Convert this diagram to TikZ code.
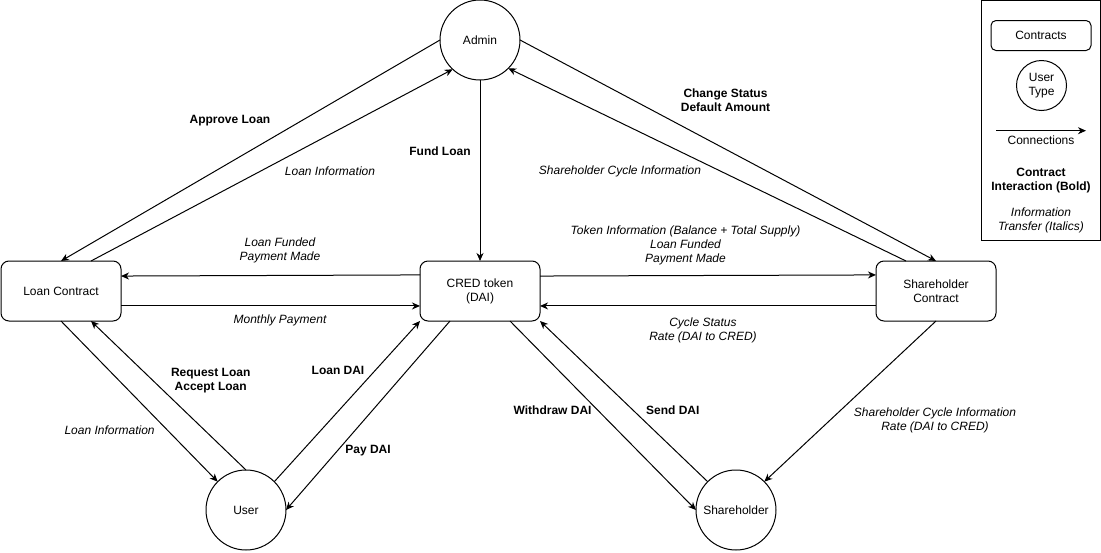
\documentclass[tikz,border=0pt]{standalone}
\usepackage{fontspec}
\setmainfont{Liberation Sans}
\usetikzlibrary{arrows.meta}
\begin{document}
\begin{tikzpicture}[x=1pt,y=-1pt,
  font=\fontsize{12}{14}\selectfont, line width=1pt,
  box/.style={draw, rounded corners=8pt, minimum width=120pt, minimum height=60pt, inner sep=0pt, outer sep=0pt, align=center},
  usr/.style={draw, circle, minimum size=80pt, inner sep=0pt, outer sep=0pt, align=center},
  conn/.style={-{Stealth[length=8pt,width=7pt,inset=2.5pt]}},
  bl/.style={font=\fontsize{12}{14}\selectfont\bfseries, align=center, inner sep=0pt},
  it/.style={font=\fontsize{12}{14}\selectfont\itshape, align=center, inner sep=0pt}]
\useasboundingbox (0,0) rectangle (1101,552);

% main nodes
\node[usr] (A) at (480,40) {Admin};
\node[box] (L) at (61,291) {Loan Contract};
\node[box] (C) at (480,291) {CRED token\\(DAI)};
\node[box] (S) at (936,291) {Shareholder\\Contract};
\node[usr] (U) at (246,510) {User};
\node[usr] (H) at (736,510) {Shareholder};

% connectors
\draw[conn] (A.west) -- (L.north);
\draw[conn] (L.45) -- (A.227);
\draw[conn] (A.south) -- (C.north);
\draw[conn] (A.east) -- (S.north);
\draw[conn] (S.135) -- (A.-45);
\draw[conn] (C.165.964) -- (L.14.036);
\draw[conn] (L.-14.036) -- (C.194.036);
\draw[conn] (C.14.036) -- (S.165.964);
\draw[conn] (S.194.036) -- (C.-14.036);
\draw[conn] (L.south) -- (U.135);
\draw[conn] (U.north) -- (L.-45);
\draw[conn] (U.45) -- (C.south west);
\draw[conn] (C.225) -- (U.east);
\draw[conn] (C.-45) -- (H.west);
\draw[conn] (H.135) -- (C.south east);
\draw[conn] (S.south) -- (H.45);

% labels
\node[bl] (l1) at (230,121) {Approve Loan};
\node[it] (l2) at (330,171) {Loan Information};
\node[bl] (l3) at (440,151) {Fund Loan};
\node[bl] (l4) at (725.5,100.7) {Change Status\\Default Amount};
\node[it] (l5) at (620,171) {Shareholder Cycle Information};
\node[it] (l6) at (280,250.7) {Loan Funded\\Payment Made};
\node[it] (l7) at (280,320.7) {Monthly Payment};
\node[it] (l8) at (685.5,245.7) {Token Information (Balance + Total Supply)\\Loan Funded\\Payment Made};
\node[it] (l9) at (703,330.7) {Cycle Status\\Rate (DAI to CRED)};
\node[it] (l10) at (109.6,430.7) {Loan Information};
\node[bl] (l11) at (210.7,380.7) {Request Loan\\Accept Loan};
\node[bl] (l12) at (338,370.7) {Loan DAI};
\node[bl] (l13) at (368,450.7) {Pay DAI};
\node[bl] (l14) at (552.6,410.7) {Withdraw DAI};
\node[bl] (l15) at (672.8,410.7) {Send DAI};
\node[it] (l16) at (935,420.7) {Shareholder Cycle Information\\Rate (DAI to CRED)};

% legend
\node[draw, minimum width=119pt, minimum height=240pt, inner sep=0pt, outer sep=0pt, anchor=north west] (legend) at (981.5,0.5) {};
\node[draw, rounded corners=5pt, minimum width=100pt, minimum height=30pt, inner sep=0pt] (lc) at (1041,35.5) {Contracts};
\node[draw, circle, minimum size=50pt, inner sep=0pt, align=center] (lu) at (1041.5,85.5) {User\\Type};
\coordinate (la1) at (996,130.7);
\coordinate (la2) at (1086,130.7);
\draw[conn] (la1) -- (la2);
\node[inner sep=0pt] (lt1) at (1041,140.7) {Connections};
\node[bl] (lt2) at (1041,180.7) {Contract\\Interaction (Bold)};
\node[it] (lt3) at (1041,220.5) {Information\\Transfer (Italics)};
\end{tikzpicture}
\end{document}
